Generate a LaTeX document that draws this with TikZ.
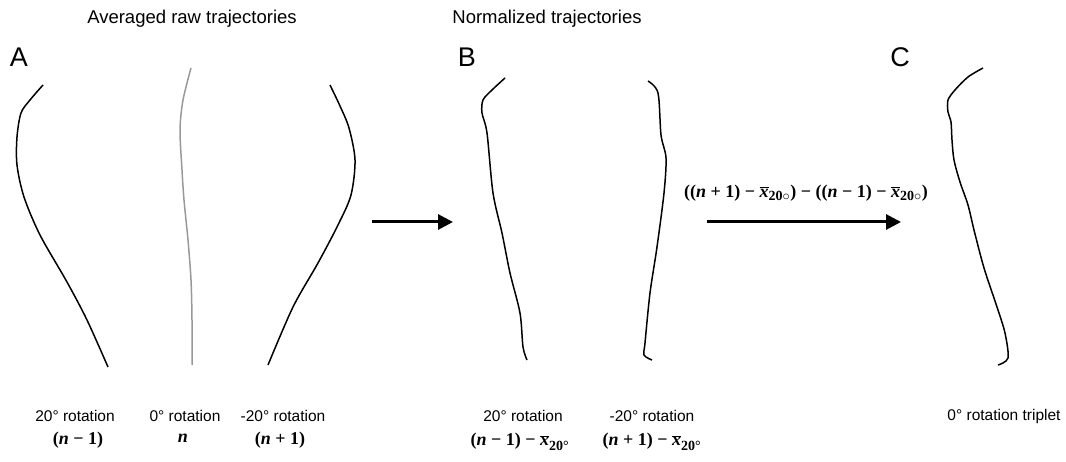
\documentclass[tikz,border=0pt]{standalone}
\usepackage{fontspec}
\setmainfont{Liberation Sans}
\newfontfamily\tms{Liberation Serif}
\usetikzlibrary{arrows.meta}
\newcommand{\xbar}{$\overline{\hbox{\tms\itshape x}}$}
\begin{document}
\begin{tikzpicture}[x=1pt,y=-1pt,
  traj/.style={line width=1.5pt,black,line join=round},
  trajgray/.style={line width=1.5pt,black!40,line join=round},
  bigarrow/.style={line width=3pt,-{Triangle[length=15pt,width=15pt]}},
  title/.style={font=\fontsize{18.5}{20}\selectfont},
  panel/.style={font=\fontsize{27}{29}\selectfont},
  lab/.style={font=\fontsize{15.5}{17}\selectfont},
  mth/.style={font=\fontsize{18}{20}\tms\bfseries}]
\useasboundingbox (0,0) rectangle (1066,462);
% titles
\node[title] (t1) at (192,19) {Averaged raw trajectories};
\node[title] (t2) at (547,19) {Normalized trajectories};
\node[panel] (pA) at (19,57) {A};
\node[panel] (pB) at (467,57) {B};
\node[panel] (pC) at (900,57) {C};
% panel A curves
\draw[traj] plot[smooth] coordinates {(43,85) (30,100) (21,113) (17,137) (17,165) (24,197) (40,235) (67,282) (87,320) (108,367)};
\draw[trajgray] plot[smooth] coordinates {(191,68) (183,100) (180,130) (182,170) (184,200) (188,240) (191,280) (192,320) (192,365)};
\draw[traj] plot[smooth] coordinates {(330,85) (340,106) (349,128) (355,160) (351,195) (338,225) (318,263) (293,307) (268,365)};
% panel B curves
\draw[traj] plot[smooth,tension=0.5] coordinates {(505,78) (492,90) (483,100) (482,113) (487,133) (493,193) (502,233) (510,273) (520,313) (523,347) (527,360)};
\draw[traj] plot[smooth,tension=0.5] coordinates {(648,81) (658,93) (661,135) (666,158) (664,193) (657,247) (650,293) (645,343) (644,355) (652,360)};
% panel C curve
\draw[traj] plot[smooth,tension=0.5] coordinates {(983,68) (968,77) (955,90) (948,100) (948,112) (951,122) (952,140) (954,160) (960,182) (968,205) (974,230) (984,268) (997,307) (1005,333) (1008,358) (998,365)};
% arrows
\coordinate (a1s) at (372,222);
\coordinate (a1e) at (453,222);
\coordinate (a2s) at (707,222);
\coordinate (a2e) at (901,222);
\draw[bigarrow] (a1s) -- (a1e);
\draw[bigarrow] (a2s) -- (a2e);
\node[mth] (al) at (806,193) {((\textit{n} + 1) − \xbar$_{\hbox{\fontsize{14}{14}\tms 20$\circ$}}$) − ((\textit{n} − 1) − \xbar$_{\hbox{\fontsize{14}{14}\tms 20$\circ$}}$)};
% bottom labels A
\node[lab] (l1) at (75,416) {20° rotation};
\node[lab] (l2) at (185,416) {0° rotation};
\node[lab] (l3) at (283,416) {-20° rotation};
\node[mth] (m1) at (78,440) {(\textit{n} − 1)};
\node[mth] (m2) at (183,438) {\textit{n}};
\node[mth] (m3) at (280,440) {(\textit{n} + 1)};
% bottom labels B
\node[lab] (l4) at (523,416) {20° rotation};
\node[lab] (l5) at (652,416) {-20° rotation};
\node[mth] (m4) at (520,442) {(\textit{n} − 1) − \xbar$_{\raisebox{-3pt}{\fontsize{14}{14}\tms\bfseries 20°}}$};
\node[mth] (m5) at (652,442) {(\textit{n} + 1) − \xbar$_{\raisebox{-3pt}{\fontsize{14}{14}\tms\bfseries 20°}}$};
% bottom label C
\node[lab] (l6) at (1004,416) {0° rotation triplet};
\end{tikzpicture}
\end{document}
